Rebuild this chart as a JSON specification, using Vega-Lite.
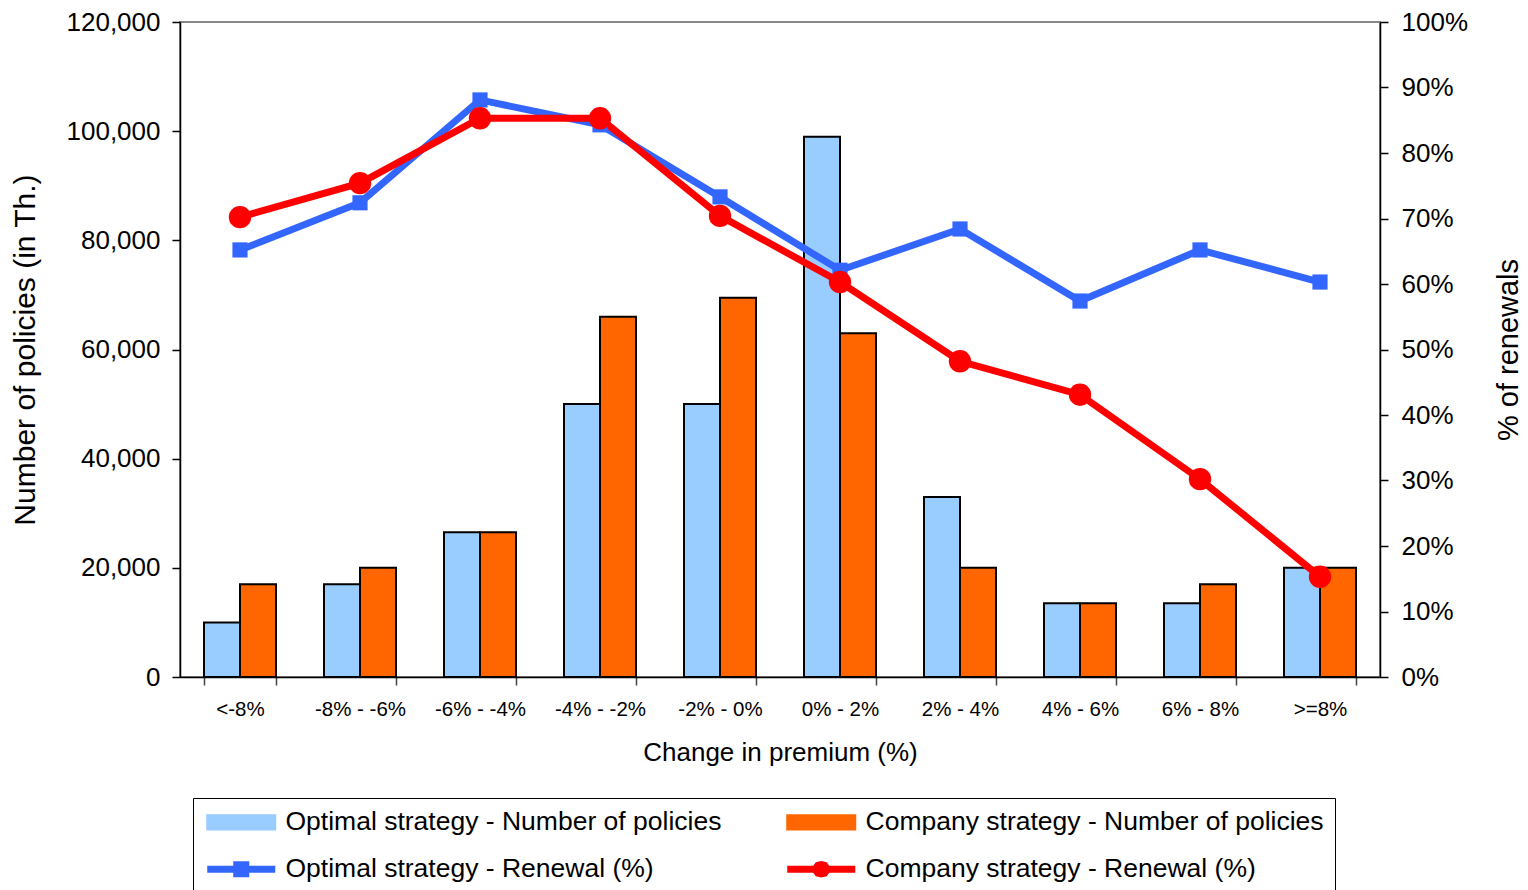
{
  "$schema": "https://vega.github.io/schema/vega-lite/v6.json",
  "width": 1200,
  "height": 655,
  "autosize": {"type": "none"},
  "padding": {"left": 180, "top": 22, "right": 148, "bottom": 213},
  "background": "white",
  "config": {
    "font": "Liberation Sans",
    "view": {"stroke": "#888888", "strokeWidth": 2},
    "axis": {
      "grid": false,
      "domainColor": "black",
      "tickColor": "black",
      "labelColor": "black",
      "titleColor": "black",
      "titleFontWeight": "normal",
      "domainWidth": 1.5,
      "tickWidth": 1.5,
      "tickSize": 8
    }
  },
  "data": {
    "values": [
      {"category": "<-8%", "series": "Optimal strategy - Number of policies", "policies": 10000},
      {"category": "<-8%", "series": "Company strategy - Number of policies", "policies": 17000},
      {"category": "-8% - -6%", "series": "Optimal strategy - Number of policies", "policies": 17000},
      {"category": "-8% - -6%", "series": "Company strategy - Number of policies", "policies": 20000},
      {"category": "-6% - -4%", "series": "Optimal strategy - Number of policies", "policies": 26500},
      {"category": "-6% - -4%", "series": "Company strategy - Number of policies", "policies": 26500},
      {"category": "-4% - -2%", "series": "Optimal strategy - Number of policies", "policies": 50000},
      {"category": "-4% - -2%", "series": "Company strategy - Number of policies", "policies": 66000},
      {"category": "-2% - 0%", "series": "Optimal strategy - Number of policies", "policies": 50000},
      {"category": "-2% - 0%", "series": "Company strategy - Number of policies", "policies": 69500},
      {"category": "0% - 2%", "series": "Optimal strategy - Number of policies", "policies": 99000},
      {"category": "0% - 2%", "series": "Company strategy - Number of policies", "policies": 63000},
      {"category": "2% - 4%", "series": "Optimal strategy - Number of policies", "policies": 33000},
      {"category": "2% - 4%", "series": "Company strategy - Number of policies", "policies": 20000},
      {"category": "4% - 6%", "series": "Optimal strategy - Number of policies", "policies": 13500},
      {"category": "4% - 6%", "series": "Company strategy - Number of policies", "policies": 13500},
      {"category": "6% - 8%", "series": "Optimal strategy - Number of policies", "policies": 13500},
      {"category": "6% - 8%", "series": "Company strategy - Number of policies", "policies": 17000},
      {"category": ">=8%", "series": "Optimal strategy - Number of policies", "policies": 20000},
      {"category": ">=8%", "series": "Company strategy - Number of policies", "policies": 20000},
      {"category": "<-8%", "series": "Optimal strategy - Renewal (%)", "renewal": 0.652},
      {"category": "-8% - -6%", "series": "Optimal strategy - Renewal (%)", "renewal": 0.724},
      {"category": "-6% - -4%", "series": "Optimal strategy - Renewal (%)", "renewal": 0.881},
      {"category": "-4% - -2%", "series": "Optimal strategy - Renewal (%)", "renewal": 0.843},
      {"category": "-2% - 0%", "series": "Optimal strategy - Renewal (%)", "renewal": 0.733},
      {"category": "0% - 2%", "series": "Optimal strategy - Renewal (%)", "renewal": 0.621},
      {"category": "2% - 4%", "series": "Optimal strategy - Renewal (%)", "renewal": 0.684},
      {"category": "4% - 6%", "series": "Optimal strategy - Renewal (%)", "renewal": 0.574},
      {"category": "6% - 8%", "series": "Optimal strategy - Renewal (%)", "renewal": 0.652},
      {"category": ">=8%", "series": "Optimal strategy - Renewal (%)", "renewal": 0.603},
      {"category": "<-8%", "series": "Company strategy - Renewal (%)", "renewal": 0.702},
      {"category": "-8% - -6%", "series": "Company strategy - Renewal (%)", "renewal": 0.754},
      {"category": "-6% - -4%", "series": "Company strategy - Renewal (%)", "renewal": 0.853},
      {"category": "-4% - -2%", "series": "Company strategy - Renewal (%)", "renewal": 0.853},
      {"category": "-2% - 0%", "series": "Company strategy - Renewal (%)", "renewal": 0.704},
      {"category": "0% - 2%", "series": "Company strategy - Renewal (%)", "renewal": 0.603},
      {"category": "2% - 4%", "series": "Company strategy - Renewal (%)", "renewal": 0.482},
      {"category": "4% - 6%", "series": "Company strategy - Renewal (%)", "renewal": 0.431},
      {"category": "6% - 8%", "series": "Company strategy - Renewal (%)", "renewal": 0.302},
      {"category": ">=8%", "series": "Company strategy - Renewal (%)", "renewal": 0.153}
    ]
  },
  "encoding": {
    "x": {
      "field": "category",
      "type": "nominal",
      "scale": {
        "domain": ["<-8%", "-8% - -6%", "-6% - -4%", "-4% - -2%", "-2% - 0%", "0% - 2%", "2% - 4%", "4% - 6%", "6% - 8%", ">=8%"],
        "paddingInner": 0.4,
        "paddingOuter": 0.2
      },
      "axis": {
        "title": "Change in premium (%)",
        "titleFontSize": 26,
        "titlePadding": 20,
        "labelFontSize": 20.5,
        "labelAngle": 0,
        "labelPadding": 14,
        "tickBand": "extent",
        "tickColor": "#444444"
      }
    },
    "color": {
      "field": "series",
      "type": "nominal",
      "scale": {
        "domain": ["Optimal strategy - Number of policies", "Company strategy - Number of policies", "Optimal strategy - Renewal (%)", "Company strategy - Renewal (%)"],
        "range": ["#99CCFF", "#FF6600", "#3366FF", "#FF0000"]
      },
      "legend": {
        "title": null,
        "orient": "none",
        "legendX": 13,
        "legendY": 776,
        "direction": "horizontal",
        "columns": 2,
        "padding": 11,
        "strokeColor": "black",
        "fillColor": "white",
        "labelFontSize": 26.5,
        "labelColor": "black",
        "labelLimit": 800,
        "labelOffset": 55,
        "symbolSize": 400,
        "symbolStrokeColor": "black",
        "symbolStrokeWidth": 2,
        "columnPadding": 61,
        "rowPadding": 20,
        "encode": {
          "symbols": {
            "update": {
              "shape": {"signal": "datum.value == 'Optimal strategy - Renewal (%)' ? 'M-1,-0.35H1.6V-0.8H3.2V-0.35H5.8V0.35H3.2V0.8H1.6V0.35H-1Z' : (datum.value == 'Company strategy - Renewal (%)' ? 'M-1,-0.35H1.6L1.85,-0.7L2.4,-0.82L2.95,-0.7L3.2,-0.35H5.8V0.35H3.2L2.95,0.7L2.4,0.82L1.85,0.7L1.6,0.35H-1Z' : 'M-1,-0.72H5.8V0.72H-1Z')"},
              "fill": {"signal": "datum.value == 'Optimal strategy - Number of policies' ? '#99CCFF' : (datum.value == 'Company strategy - Number of policies' ? '#FF6600' : (datum.value == 'Optimal strategy - Renewal (%)' ? '#3366FF' : '#FF0000'))"},
              "fillOpacity": {"value": 1},
              "stroke": {"value": "black"},
              "strokeOpacity": {"value": 1},
              "strokeWidth": {"signal": "datum.value == 'Optimal strategy - Number of policies' || datum.value == 'Company strategy - Number of policies' ? 2 : 0"}
            }
          }
        }
      }
    }
  },
  "layer": [
    {
      "transform": [{"filter": "datum.policies > 0"}],
      "mark": {"type": "bar", "stroke": "black", "strokeWidth": 2},
      "encoding": {
        "xOffset": {
          "field": "series",
          "type": "nominal",
          "scale": {"domain": ["Optimal strategy - Number of policies", "Company strategy - Number of policies"]}
        },
        "y": {
          "field": "policies",
          "type": "quantitative",
          "scale": {"domain": [0, 120000], "nice": false},
          "axis": {
            "title": "Number of policies (in Th.)",
            "titleFontSize": 30,
            "titlePadding": 26,
            "labelFontSize": 26,
            "labelPadding": 12,
            "values": [0, 20000, 40000, 60000, 80000, 100000, 120000],
            "format": ",d"
          }
        }
      }
    },
    {
      "transform": [{"filter": "datum.renewal > 0"}],
      "encoding": {
        "y": {
          "field": "renewal",
          "type": "quantitative",
          "scale": {"domain": [0, 1], "nice": false},
          "axis": {
            "orient": "right",
            "title": "% of renewals",
            "titleFontSize": 29,
            "titleAngle": 270,
            "titlePadding": 56,
            "labelFontSize": 26,
            "labelPadding": 13,
            "values": [0, 0.1, 0.2, 0.3, 0.4, 0.5, 0.6, 0.7, 0.8, 0.9, 1],
            "format": ".0%"
          }
        }
      },
      "layer": [
        {
          "mark": {"type": "line", "strokeWidth": 7}
        },
        {
          "transform": [{"filter": "datum.series == 'Optimal strategy - Renewal (%)'"}],
          "mark": {"type": "point", "shape": "square", "filled": true, "size": 230, "opacity": 1}
        },
        {
          "transform": [{"filter": "datum.series == 'Company strategy - Renewal (%)'"}],
          "mark": {"type": "point", "shape": "circle", "filled": true, "size": 500, "opacity": 1}
        }
      ]
    }
  ],
  "resolve": {"scale": {"y": "independent"}}
}
